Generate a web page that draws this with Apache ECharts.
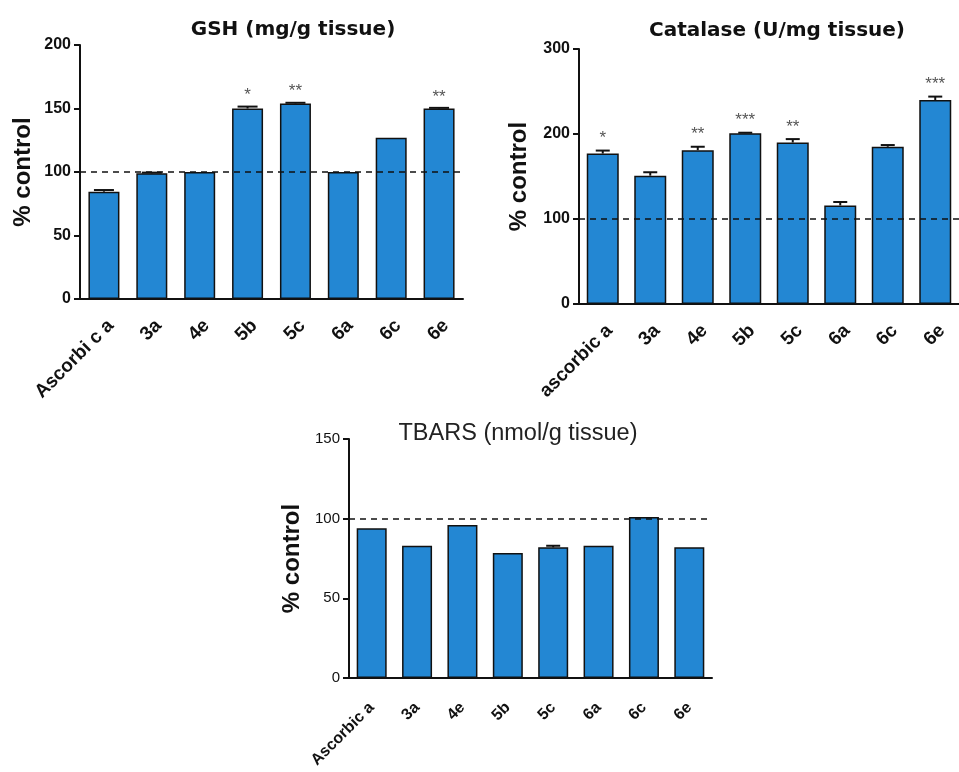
<!DOCTYPE html>
<html>
<head>
<meta charset="utf-8">
<script src="https://cdn.jsdelivr.net/npm/echarts@6/dist/echarts.min.js"></script>
<style>html,body{margin:0;padding:0;background:#fff;}#c{width:959px;height:772px;}</style>
</head>
<body>
<div id="c"></div>
<script>
// ---- data ----
const gshCats = ['Ascorbi c a', '3a', '4e', '5b', '5c', '6a', '6c', '6e'];
const gshValues = [84.5, 99, 100, 150, 154, 100, 127, 150];
const gshErr = [1.3, 0.5, 0, 1.5, 0.5, 0, 0, 0.5];
const gshSig = ['', '', '', '*', '**', '', '', '**'];
const gshTicks = [0, 50, 100, 150, 200];

const catCats = ['ascorbic a', '3a', '4e', '5b', '5c', '6a', '6c', '6e'];
const catValues = [177, 151, 181, 201, 190, 116, 185, 240];
const catErr = [3.5, 4, 4, 0.5, 4, 4, 2, 4];
const catSig = ['*', '', '**', '***', '**', '', '', '***'];
const catTicks = [0, 100, 200, 300];

const tbCats = ['Ascorbic a', '3a', '4e', '5b', '5c', '6a', '6c', '6e'];
const tbValues = [94, 83, 96, 78.5, 82, 83, 101, 82];
const tbErr = [0, 0, 0, 0, 1, 0, 0, 0];
const tbSig = ['', '', '', '', '', '', '', ''];
const tbTicks = [0, 50, 100, 150];

const controlLevel = 100;
const yLabel = '% control';
const titles = ['GSH (mg/g tissue)', 'Catalase (U/mg tissue)', 'TBARS (nmol/g tissue)'];

// ---- chart ----
const FONT = "'Liberation Sans', Arial, sans-serif";
const BAR = '#2387d3';
const chart = echarts.init(document.getElementById('c'), null, {renderer: 'canvas'});

const panels = [
  {cats: gshCats, vals: gshValues, err: gshErr, sig: gshSig, ticks: gshTicks,
   grid: {left: 80, top: 45, width: 383, height: 254}, barW: 31, capW: 20,
   tickFont: 16, tickBold: 'bold', xFont: 19, xMargin: 17, xVA: 'top', nameGap: 45, starGap: 11},
  {cats: catCats, vals: catValues, err: catErr, sig: catSig, ticks: catTicks,
   grid: {left: 579, top: 49, width: 380, height: 255}, barW: 32, capW: 14,
   tickFont: 16, tickBold: 'bold', xFont: 19, xMargin: 17, xVA: 'top', nameGap: 48, starGap: 12},
  {cats: tbCats, vals: tbValues, err: tbErr, sig: tbSig, ticks: tbTicks,
   grid: {left: 349, top: 439, width: 363, height: 239}, barW: 30, capW: 14,
   tickFont: 15, tickBold: 'normal', xFont: 16, xMargin: 27, xVA: 'middle', nameGap: 45, starGap: 11}
];

const grid = [], xAxis = [], yAxis = [], series = [];
panels.forEach((p, k) => {
  grid.push(Object.assign({containLabel: false}, p.grid));
  xAxis.push({
    type: 'category', gridIndex: k, data: p.cats,
    axisLine: {lineStyle: {color: '#111', width: 2}},
    axisTick: {alignWithLabel: true, length: 7, lineStyle: {color: '#111', width: 2}},
    axisLabel: {rotate: 45, margin: p.xMargin, color: '#111', fontFamily: FONT,
                fontWeight: 'bold', fontSize: p.xFont, interval: 0, verticalAlign: p.xVA},
    splitLine: {show: false}
  });
  const mx = p.ticks[p.ticks.length - 1];
  yAxis.push({
    type: 'value', gridIndex: k, min: p.ticks[0], max: mx,
    interval: p.ticks[1] - p.ticks[0],
    name: yLabel, nameLocation: 'middle', nameRotate: 90, nameGap: p.nameGap,
    nameTextStyle: {fontFamily: FONT, fontWeight: 'bold', fontSize: 24, color: '#111'},
    axisLine: {show: true, lineStyle: {color: '#111', width: 2}},
    axisTick: {show: true, length: 6, lineStyle: {color: '#111', width: 2}},
    axisLabel: {margin: 9, color: '#111', fontFamily: FONT, fontWeight: p.tickBold, fontSize: p.tickFont},
    splitLine: {show: false}
  });
  series.push({
    type: 'bar', xAxisIndex: k, yAxisIndex: k, data: p.vals, barWidth: p.barW,
    itemStyle: {color: BAR, borderColor: '#111', borderWidth: 1.5},
    markLine: {
      silent: true, symbol: 'none', label: {show: false}, z: 10,
      lineStyle: {type: [6, 5], color: '#111', width: 1.6},
      data: [{yAxis: controlLevel}]
    },
    z: 2
  });
  series.push({
    type: 'custom', xAxisIndex: k, yAxisIndex: k, z: 5,
    data: p.vals.map((v, i) => [i, v, p.err[i]]),
    renderItem: function (params, api) {
      const i = api.value(0), v = api.value(1), e = api.value(2);
      const top = api.coord([i, v + e]);
      const base = api.coord([i, v]);
      const children = [];
      if (e > 0) {
        children.push({type: 'line', shape: {x1: base[0], y1: base[1], x2: top[0], y2: top[1]},
          style: {stroke: '#111', lineWidth: 2}});
        children.push({type: 'line', shape: {x1: top[0] - p.capW / 2, y1: top[1], x2: top[0] + p.capW / 2, y2: top[1]},
          style: {stroke: '#111', lineWidth: 2}});
      }
      const s = p.sig[params.dataIndex];
      if (s) {
        children.push({type: 'text', style: {text: s, x: top[0], y: top[1] - p.starGap,
          align: 'center', verticalAlign: 'middle', fill: '#555', fontSize: 17, fontFamily: FONT}});
      }
      return {type: 'group', children: children};
    }
  });
});

chart.setOption({
  backgroundColor: '#fff',
  animation: false,
  title: [
    {text: titles[0], left: 293, top: 20, textAlign: 'center', padding: 0,
     textStyle: {fontFamily: "'DejaVu Sans', sans-serif", fontWeight: 'bold', fontSize: 20, color: '#111'}},
    {text: titles[1], left: 777, top: 21, textAlign: 'center', padding: 0,
     textStyle: {fontFamily: "'DejaVu Sans', sans-serif", fontWeight: 'bold', fontSize: 20, color: '#111'}},
    {text: titles[2], left: 518, top: 422, textAlign: 'center', padding: 0,
     textStyle: {fontFamily: FONT, fontWeight: 'normal', fontSize: 23.5, color: '#222'}}
  ],
  grid: grid, xAxis: xAxis, yAxis: yAxis, series: series
});
</script>
</body>
</html>
